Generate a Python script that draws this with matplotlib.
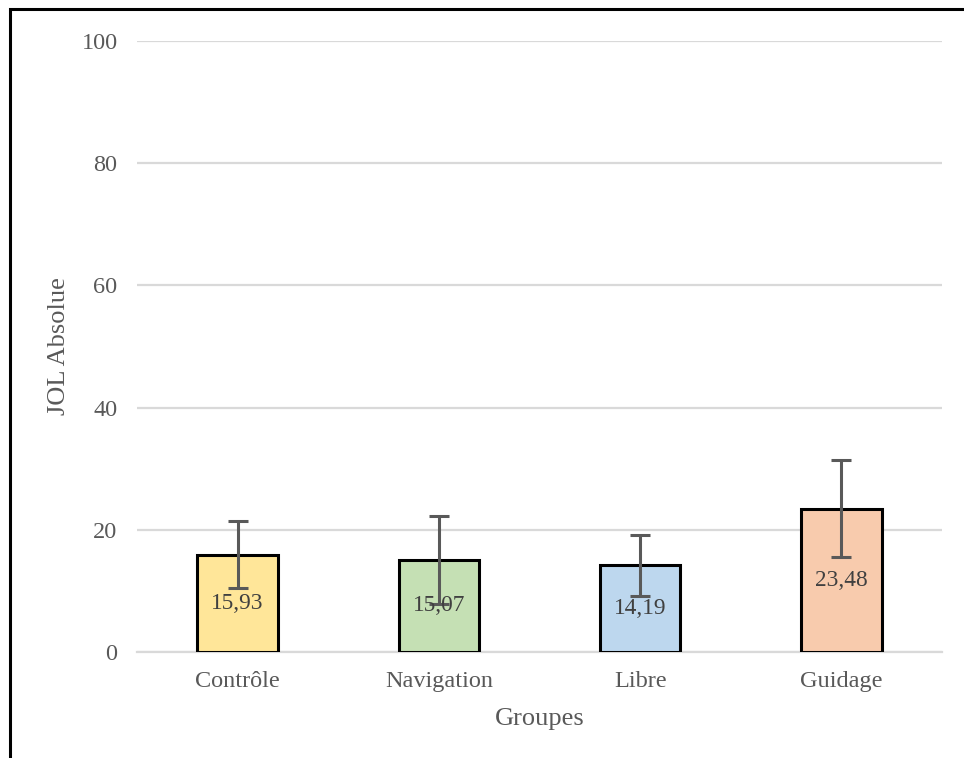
import matplotlib
matplotlib.use("Agg")
import matplotlib.pyplot as plt
from matplotlib.patches import Rectangle

# data
groupes = ["Contrôle", "Navigation", "Libre", "Guidage"]
moyennes = [15.93, 15.07, 14.19, 23.48]
erreurs = [5.45, 7.15, 4.95, 7.9]
couleurs = ["#FFE699", "#C5E0B4", "#BDD7EE", "#F8CBAD"]

plt.rcParams['font.family'] = ['Liberation Serif', 'DejaVu Serif']
gris = "#595959"

fig = plt.figure(figsize=(9.64, 7.58), dpi=100)
ax = fig.add_axes([137/964, 1-652/758, (942-137)/964, (652-41)/758])

x = range(len(groupes))
bars = ax.bar(x, moyennes, width=0.4, color=couleurs, edgecolor="black",
              linewidth=2.2, zorder=3)
ax.errorbar(x, moyennes, yerr=erreurs, fmt="none", ecolor=gris,
            elinewidth=2.2, capsize=7.5, capthick=2.2, zorder=4)
ax.bar_label(bars, labels=[f"{v:.2f}".replace(".", ",") for v in moyennes],
             label_type="center", fontsize=16.8, color="#404040", zorder=5)

ax.set_xlim(-0.5, 3.5)
ax.set_ylim(0, 100)
ax.set_yticks([0, 20, 40, 60, 80, 100])
ax.set_xticks(list(x))
ax.set_xticklabels(groupes)
ax.yaxis.grid(True, color="#d9d9d9", linewidth=1.6, zorder=0)
ax.set_axisbelow(True)
for s in ["top", "right", "left"]:
    ax.spines[s].set_visible(False)
ax.spines["bottom"].set_color("#d9d9d9")
ax.spines["bottom"].set_linewidth(1.6)
ax.tick_params(axis="both", length=0, labelsize=17.5, labelcolor=gris)
ax.tick_params(axis="y", pad=14)
ax.tick_params(axis="x", pad=14)

ax.set_xlabel("Groupes", fontsize=19, color=gris, labelpad=11)
ax.set_ylabel("JOL Absolue", fontsize=19, color=gris, labelpad=8)

# outer frame (only left and top edges visible)
fig.patches.append(Rectangle((9.5/964, -0.1), 1.2, 1.1 - 9.5/758,
                             transform=fig.transFigure, fill=False,
                             edgecolor="black", linewidth=2.2, clip_on=False))

fig.savefig("out.png", dpi=100)
